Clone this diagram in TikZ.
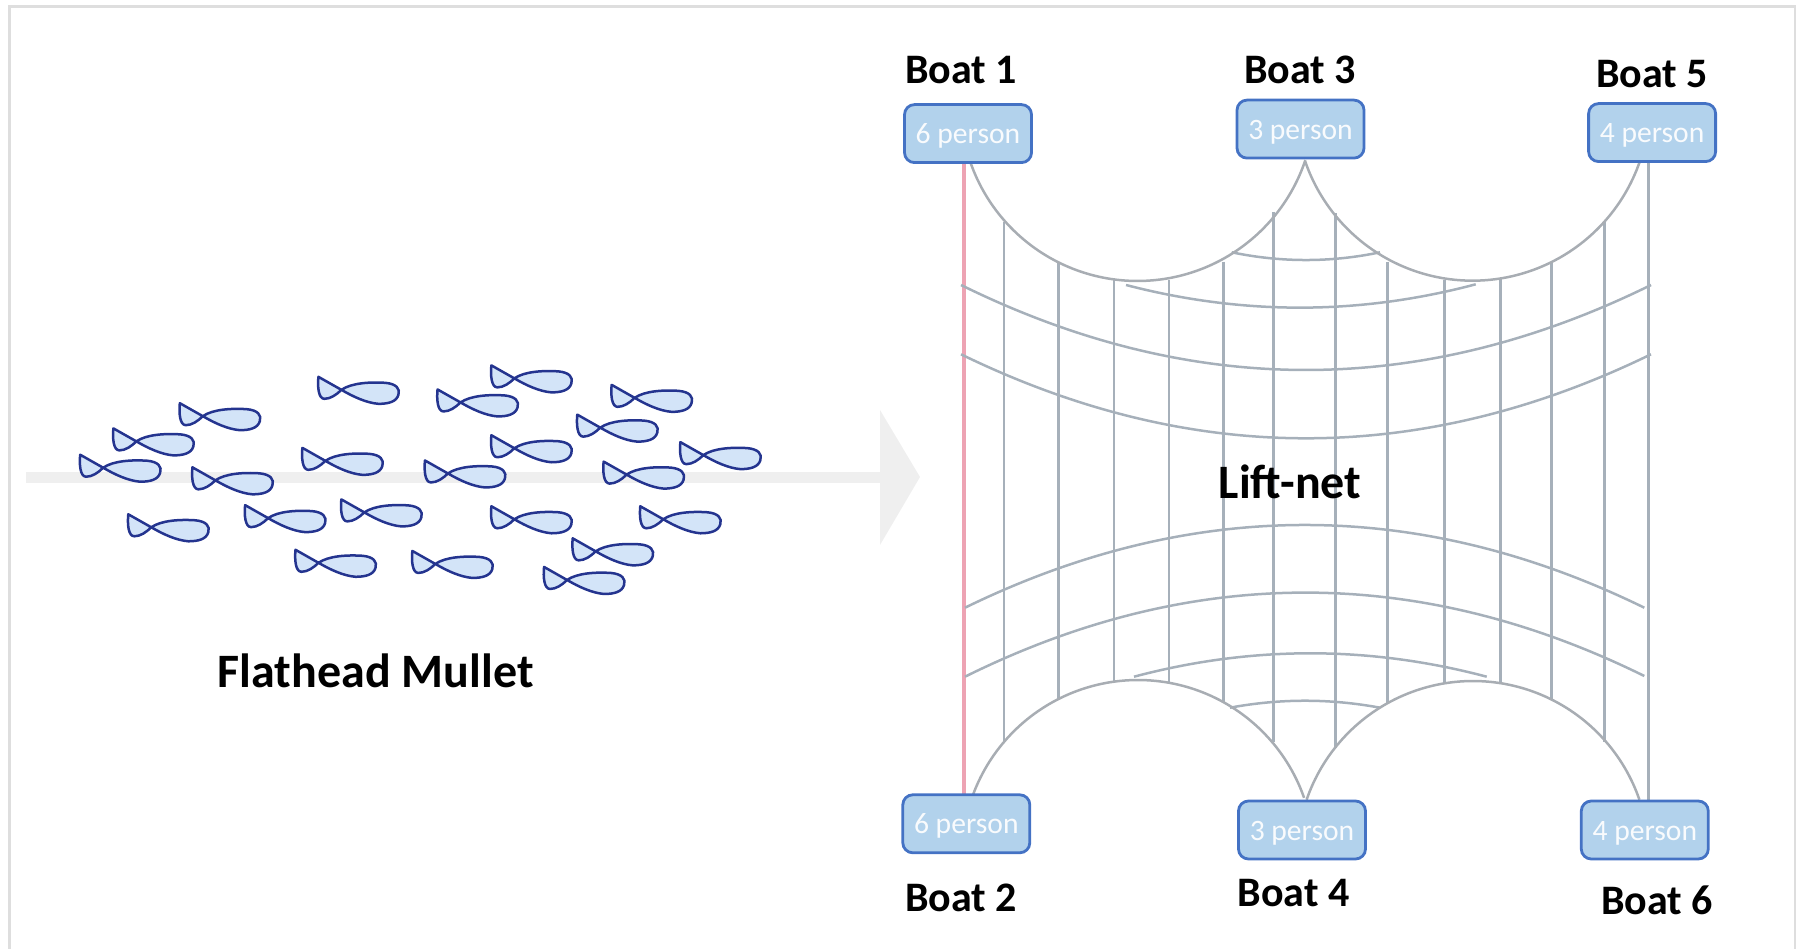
\documentclass[tikz,border=0pt]{standalone}
\usepackage{fontspec}
\setmainfont{Carlito}
\definecolor{framegray}{HTML}{DEDEDE}
\definecolor{arrowgray}{HTML}{EFEFEF}
\definecolor{netgray}{HTML}{A6B0BA}
\definecolor{arcgray}{HTML}{A8ADB3}
\definecolor{netred}{HTML}{EDA3B3}
\definecolor{boxfill}{HTML}{B2D2EC}
\definecolor{boxline}{HTML}{4472C4}
\definecolor{fishline}{HTML}{24348F}
\definecolor{fishfill}{HTML}{D3E4F8}
\tikzset{
  x=1pt,y=-1pt,
  boatbox/.style={draw=boxline,fill=boxfill,line width=2.8pt,rounded corners=10pt,
    minimum width=127pt,minimum height=58pt,inner sep=0pt,text=white!92!boxfill,
    text height=26pt,text depth=6pt,
    font=\fontsize{29.6}{30}\selectfont},
  boatlabel/.style={anchor=base,text=black,inner sep=0pt,font=\fontsize{42}{43}\selectfont\bfseries},
  biglabel/.style={boatlabel,font=\fontsize{48}{49}\selectfont\bfseries},
  netline/.style={draw=netgray,line width=2.5pt},
  netarc/.style={draw=arcgray,line width=2.5pt},
  fishbody/.style={draw=fishline,fill=fishfill,line width=2.5pt,line join=round},
}
\newcommand{\fishat}[3][]{%
  \draw[fishbody,shift={(#2,#3)}] (0,0) -- (23,13)
    .. controls (33,6) and (52,5) .. (67,6)
    .. controls (78,7) and (82,12) .. (80,18)
    .. controls (78,25) and (70,27) .. (60,27)
    .. controls (48,26) and (35,20) .. (23,13)
    .. controls (18,18) and (12,22) .. (6,22)
    .. controls (0,22) and (-1,10) .. (0,0) -- cycle;}
\newcommand{\circarc}[5]{%
  \draw[netarc] plot[domain=#4:#5,samples=50,smooth] ({#1+#3*cos(\x)},{#2+#3*sin(\x)});}
\begin{document}
\begin{tikzpicture}
\useasboundingbox (0,0) rectangle (1796,949);
% frame
\draw[framegray,line width=3pt] (9,949) -- (9,7) -- (1795,7) -- (1795,949);
% grey arrow
\fill[arrowgray] (26,472) rectangle (880,483);
\fill[arrowgray] (880,410) -- (920,477) -- (880,545) -- cycle;
% fish
\foreach \fx/\fy in {157/352,99/374,70/397,168/408,112/449,278/329,382/340,429/319,534/336,
  504/362,429/380,594/386,264/391,371/402,527/403,214/441,298/436,429/442,559/442,500/470,
  258/480,360/481,475/495}{%
  \pgfmathsetmacro{\px}{\fx*1.1454}\pgfmathsetmacro{\py}{\fy*1.1454}
  \fishat{\px}{\py}
}
% net verticals
\draw[netred,line width=3.5pt] (964,163) -- (964,794);
\draw[netline] (1648.7,162) -- (1648.7,800);
\foreach \vx/\vt/\vb in {1004/221.7/741.7,1058.7/261.7/699.3,1114/278.3/681.7,1169/280/682.7,
  1223.7/261.7/703.3,1273.7/211.7/741.7,1335.7/213.3/748.3,1387.3/261.7/703.3,1444.3/280/682.7,
  1500.7/278.3/681.7,1551.7/261.7/700,1604.7/221.7/741.7}{%
  \draw[netline] (\vx,\vt) -- (\vx,\vb);
}
% cross curves, upper
\draw[netline] (1231.7,252.3) .. controls (1281,262.6) and (1331,262.6) .. (1380,252.3);
\draw[netline] (1126,285) .. controls (1242.6,315.3) and (1359,315.3) .. (1475.7,284.3);
\draw[netline] (961,285) .. controls (1191,398.3) and (1421,398.3) .. (1651,285);
\draw[netline] (961,354.3) .. controls (1191,466.3) and (1421,466.3) .. (1651,354.3);
% cross curves, lower
\draw[netline] (965,607.7) .. controls (1191,497.4) and (1418.7,497.4) .. (1644.3,607.7);
\draw[netline] (965,676.7) .. controls (1191,564.7) and (1418.7,564.7) .. (1644.3,676);
\draw[netline] (1134,676.7) .. controls (1251.5,645.5) and (1369,645.5) .. (1486.7,676.7);
\draw[netline] (1230,707.7) .. controls (1280,698.4) and (1330,698.4) .. (1380,707.7);
% arcs
\circarc{1137.5}{104}{177}{160.6}{18.5}
\circarc{1472.5}{103.7}{177}{161}{19.4}
\circarc{1138}{856}{176}{199.3}{340.7}
\circarc{1473}{857}{176}{199}{341}
% boats
\node[boatbox] (b1) at (968,133.6) {6 person};
\node[boatbox] (b3) at (1300.5,129.1) {3 person};
\node[boatbox] (b5) at (1652.1,132.6) {4 person};
\node[boatbox] (b2) at (966.3,823.8) {6 person};
\node[boatbox] (b4) at (1302,830) {3 person};
\node[boatbox] (b6) at (1644.8,830) {4 person};
% labels
\node[boatlabel] (l1) at (961,84) {Boat 1};
\node[boatlabel] (l3) at (1300,84) {Boat 3};
\node[boatlabel] (l5) at (1652.3,88) {Boat 5};
\node[boatlabel] (l2) at (961,911) {Boat 2};
\node[boatlabel] (l4) at (1293.7,906.5) {Boat 4};
\node[boatlabel] (l6) at (1657.3,914) {Boat 6};
\node[biglabel] (ln) at (1290,498.5) {Lift-net};
\node[biglabel] (fm) at (375.7,687) {Flathead Mullet};
\end{tikzpicture}
\end{document}
